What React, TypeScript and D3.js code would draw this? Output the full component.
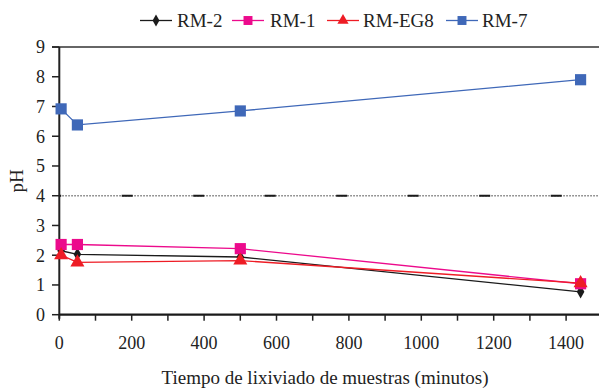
import * as d3 from "d3";

const times = [5, 50, 500, 1440];
const rm2 = [2.15, 2.03, 1.94, 0.77];
const rm1 = [2.36, 2.36, 2.22, 1.04];
const rmEG8 = [2.0, 1.76, 1.82, 1.06];
const rm7 = [6.92, 6.38, 6.85, 7.9];
const xTicks = [0, 200, 400, 600, 800, 1000, 1200, 1400];
const xMinor = d3.range(0, 1501, 100);
const yTicks = [0, 1, 2, 3, 4, 5, 6, 7, 8, 9];
const limitPH = 4;

type Marker = "diamond" | "square" | "triangle";
const series: { name: string; values: number[]; color: string; marker: Marker }[] = [
  { name: "RM-2", values: rm2, color: "#1b1b1b", marker: "diamond" },
  { name: "RM-1", values: rm1, color: "#ec0a8c", marker: "square" },
  { name: "RM-EG8", values: rmEG8, color: "#ee1c25", marker: "triangle" },
  { name: "RM-7", values: rm7, color: "#3f68b8", marker: "square" },
];

const W = 599;
const H = 388;
const FONT = "Liberation Serif, Times New Roman, serif";

const x = d3.scaleLinear().domain([0, 1500]).range([59.3, 602.3]);
const y = d3.scaleLinear().domain([0, 9]).range([314.7, 47]);

function markerPath(m: Marker) {
  if (m === "diamond") return d3.symbol(d3.symbolDiamond, 50)();
  if (m === "square") return d3.symbol(d3.symbolSquare, 125)();
  return d3.symbol(d3.symbolTriangle, 85)();
}

const legendItems = [
  { lx: 140, tx: 177 },
  { lx: 232, tx: 270 },
  { lx: 327, tx: 363 },
  { lx: 446, tx: 482 },
];

export default function App() {
  const line = d3
    .line<number>()
    .x((_, i) => x(times[i]))
    .y((d) => y(d));

  return (
    <svg
      width={W}
      height={H}
      style={{ position: "absolute", left: 0, top: 0, background: "#fff", fontFamily: FONT }}
    >
      {/* top frame line */}
      <line x1={52} x2={W} y1={y(9)} y2={y(9)} stroke="#333" strokeWidth={1.5} />

      {/* reference line at pH 4 */}
      <line
        x1={x(0)}
        x2={W}
        y1={y(limitPH)}
        y2={y(limitPH)}
        stroke="#777"
        strokeWidth={1.5}
        strokeDasharray="1.5 1.5"
      />
      <line
        x1={x(0)}
        x2={W}
        y1={y(limitPH)}
        y2={y(limitPH)}
        stroke="#1a1a1a"
        strokeWidth={2}
        strokeDasharray="11 60.5"
        strokeDashoffset={-62.4}
      />

      {/* y axis */}
      <line x1={x(0)} x2={x(0)} y1={y(9)} y2={y(0) + 4} stroke="#222" strokeWidth={2} />
      {yTicks.map((t) => (
        <g key={t}>
          <line x1={52} x2={x(0)} y1={y(t)} y2={y(t)} stroke="#222" strokeWidth={1.5} />
          <text
            x={45}
            y={y(t)}
            dy="0.35em"
            textAnchor="end"
            fontSize={18}
            fill="#222"
          >
            {t}
          </text>
        </g>
      ))}

      {/* x axis */}
      <line x1={x(0)} x2={W} y1={y(0)} y2={y(0)} stroke="#1a1a1a" strokeWidth={2.2} />
      {xMinor.map((t) => (
        <line
          key={t}
          x1={x(t)}
          x2={x(t)}
          y1={y(0)}
          y2={y(0) + 6}
          stroke="#222"
          strokeWidth={1.5}
        />
      ))}
      {xTicks.map((t) => (
        <text
          key={t}
          x={x(t)}
          y={349}
          textAnchor="middle"
          fontSize={18}
          fill="#222"
        >
          {t}
        </text>
      ))}

      <text x={325} y={384} textAnchor="middle" fontSize={19} fill="#222">
        Tiempo de lixiviado de muestras (minutos)
      </text>
      <text
        transform={`translate(23,${y(4.5)}) rotate(-90)`}
        textAnchor="middle"
        fontSize={19}
        fill="#222"
      >
        pH
      </text>

      {/* series */}
      {series.map((s) => (
        <g key={s.name}>
          <path d={line(s.values) ?? ""} fill="none" stroke={s.color} strokeWidth={1.3} />
          {s.values.map((v, i) => (
            <path
              key={i}
              d={markerPath(s.marker) ?? ""}
              transform={`translate(${x(times[i])},${y(v)})`}
              fill={s.color}
            />
          ))}
        </g>
      ))}

      {/* legend */}
      {series.map((s, i) => {
        const it = legendItems[i];
        return (
          <g key={s.name}>
            <line
              x1={it.lx}
              x2={it.lx + 32}
              y1={20.5}
              y2={20.5}
              stroke={s.color}
              strokeWidth={1.3}
            />
            <path
              d={markerPath(s.marker) ?? ""}
              transform={`translate(${it.lx + 16},20.5) scale(${s.marker === "diamond" ? 0.9 : 0.8})`}
              fill={s.color}
            />
            <text x={it.tx} y={20.5} dy="0.35em" fontSize={19} fill="#222">
              {s.name}
            </text>
          </g>
        );
      })}
    </svg>
  );
}
